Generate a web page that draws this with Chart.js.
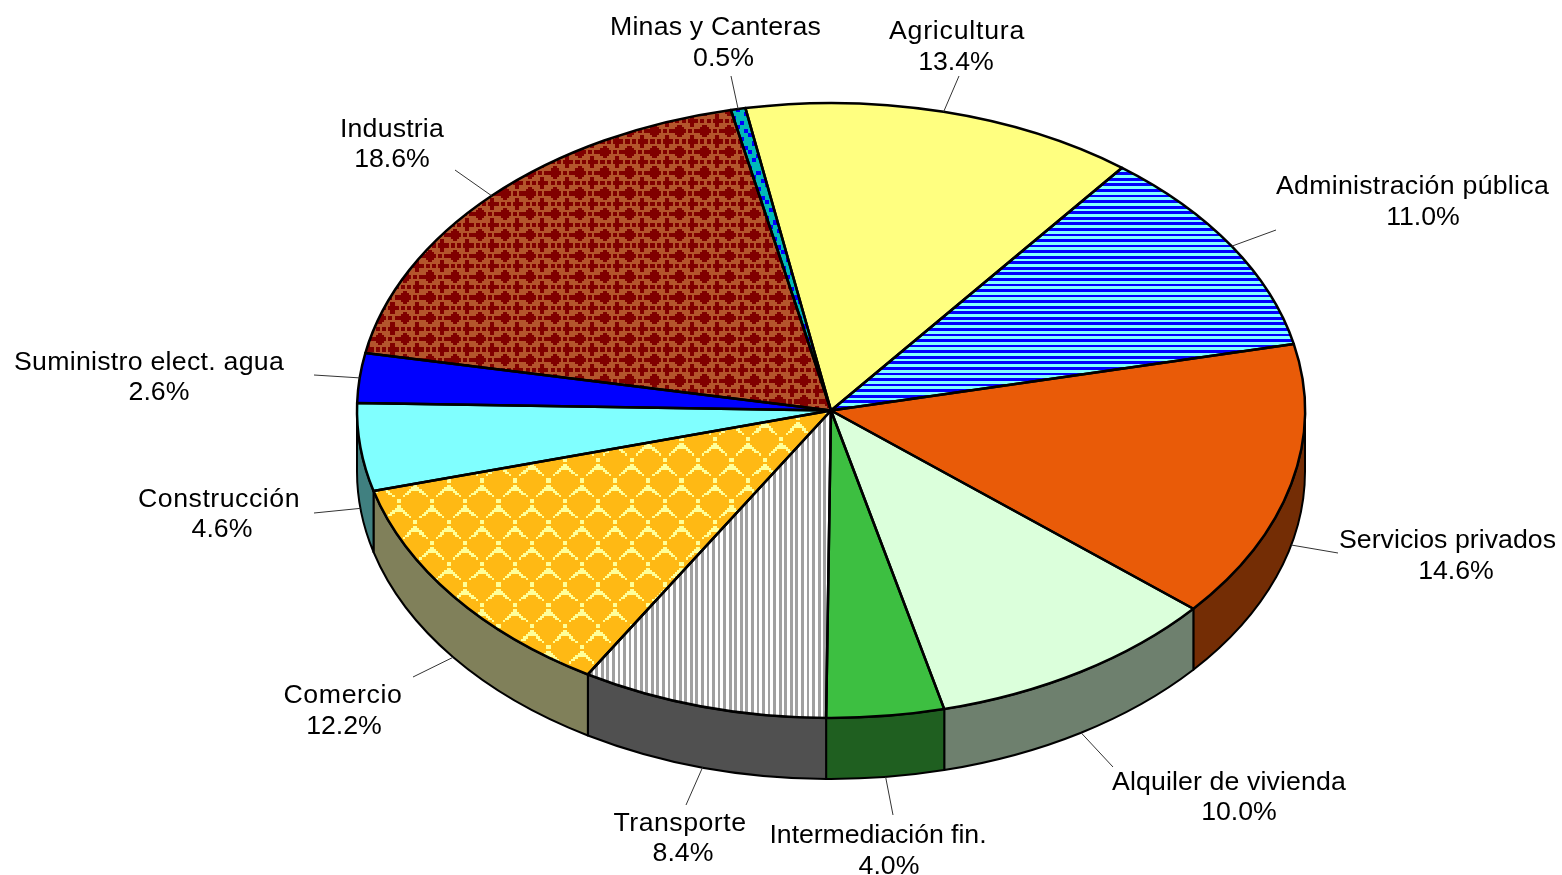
<!DOCTYPE html>
<html>
<head>
<meta charset="utf-8">
<style>html,body{margin:0;padding:0;background:#fff}canvas{display:block}</style>
<script src="https://cdn.jsdelivr.net/npm/chart.js@4/dist/chart.umd.min.js"></script>
</head>
<body>
<canvas id="c" width="1562" height="875"></canvas>
<script>
const categories = ['Agricultura','Administración pública','Servicios privados','Alquiler de vivienda','Intermediación fin.','Transporte','Comercio','Construcción','Suministro elect. agua','Industria','Minas y Canteras'];
const shares = [13.4,11.0,14.6,10.0,4.0,8.4,12.2,4.6,2.6,18.6,0.5];

// label layout: [name centre x, name y, value centre x, value y, leader end x, leader end y, name width]
const labelLayout = [
  [957,32,956,63,959,76,136],
  [1412.5,187,1423,218,1276,230,273],
  [1447.5,541,1456,572,1338,553,217],
  [1229,783,1239,813,1113,767,234],
  [878,836,889,867,893,815,217],
  [680,824,683,854,686,805,133],
  [343,696,344,727,413,677,119],
  [219,500,222,530,314,513,162],
  [149,363,159,393,314,375,270],
  [392,130,392,160,455,170,104],
  [715.5,28,723.5,59,731,76,211]
];
const wallColors = ['#b0b080','#000080','#742d05','#6e806e','#1f5f20','#505050','#80805a','#408080','#000080','#5a2a16','#005c5c'];

const CX = 831, CY = 410.5, RX = 474, RY = 307.5, DEPTH = 61, SX = RX / RY;
const CELL = 2.08;

function tile(rows, bg, fg, cell) {
  const h = rows.length, w = rows[0].length;
  const t = document.createElement('canvas');
  t.width = w; t.height = h;
  const g = t.getContext('2d');
  g.fillStyle = bg; g.fillRect(0,0,w,h);
  g.fillStyle = fg;
  rows.forEach((r,y)=>{ for(let x=0;x<w;x++) if(r[x]==='#') g.fillRect(x,y,1,1); });
  const p = document.getElementById('c').getContext('2d').createPattern(t,'repeat');
  p.setTransform(new DOMMatrix().scale(cell/SX, cell));
  return p;
}
const hStripes = tile(['#','.'], '#80ffff', '#0000ff', 2.78);
const vStripes = tile(['#.'], '#ffffff', '#a0a0a0', 2.78);
const scales = tile([
'.......##.......',
'.......##.......',
'................',
'.......##.......',
'......####......',
'.....######.....',
'....##....##....',
'...##......##...',
'..#..........#..',
'................',
'#..............#',
'#..............#',
'................',
'#..............#',
'##............##',
'###..........###',
'..##........##..',
'...##......##...',
'.....#....#.....',
'................'
], '#ffb914', '#ffff99', CELL);
const crosses = tile([
'..##....##..',
'.####.......',
'######.##.##',
'######.##.##',
'.####.......',
'..##....##..',
'........##..',
'.##.##.#####',
'.##.##.#####',
'........##..'
], '#b4552c', '#800000', CELL);
const dots = tile([
'##......',
'##......',
'....##..',
'....##..',
'..##....',
'..##....',
'......##',
'......##'
], '#00b9b9', '#0000ff', CELL);

const faceColors = ['#ffff80',hStripes,'#e95b08','#dbffdb','#3dbf41',vStripes,scales,'#80ffff','#0000ff',crosses,dots];

const pie3d = {
  id:'pie3d',
  beforeDatasetsDraw(chart){
    const ctx = chart.ctx, arcs = chart.getDatasetMeta(0).data;
    ctx.save();
    ctx.lineWidth = 2; ctx.strokeStyle = '#000'; ctx.lineJoin = 'round';
    arcs.forEach((arc,i)=>{
      const a = Math.max(arc.startAngle,0), b = Math.min(arc.endAngle,Math.PI);
      if (b <= a) return;
      ctx.beginPath();
      ctx.ellipse(CX,CY,RX,RY,0,a,b);
      ctx.ellipse(CX,CY+DEPTH,RX,RY,0,b,a,true);
      ctx.closePath();
      ctx.fillStyle = wallColors[i];
      ctx.fill(); ctx.stroke();
    });
    ctx.restore();
    ctx.save();
    ctx.imageSmoothingEnabled = false;
    ctx.translate(CX,CY); ctx.scale(SX,1); ctx.translate(-CX,-CY);
  },
  afterDatasetsDraw(chart){
    const ctx = chart.ctx, arcs = chart.getDatasetMeta(0).data;
    ctx.restore();
    ctx.save();
    ctx.lineWidth = 2.5; ctx.strokeStyle = '#000'; ctx.lineJoin = 'round';
    arcs.forEach(arc=>{
      ctx.beginPath();
      ctx.moveTo(CX,CY);
      ctx.ellipse(CX,CY,RX,RY,0,arc.startAngle,arc.endAngle);
      ctx.closePath();
      ctx.stroke();
    });
    // leaders
    ctx.lineWidth = 1; ctx.strokeStyle = '#333';
    arcs.forEach((arc,i)=>{
      const m = (arc.startAngle+arc.endAngle)/2;
      const sx = CX+RX*Math.cos(m);
      let sy = CY+RY*Math.sin(m);
      if (Math.sin(m)>0) sy += DEPTH;
      ctx.beginPath(); ctx.moveTo(sx,sy); ctx.lineTo(labelLayout[i][4],labelLayout[i][5]); ctx.stroke();
    });
    // labels
    ctx.fillStyle='#000'; ctx.textAlign='center'; ctx.textBaseline='middle';
    ctx.font='26.7px "Liberation Sans", Arial, sans-serif';
    categories.forEach((n,i)=>{
      const l = labelLayout[i];
      ctx.letterSpacing='0px';
      const w = ctx.measureText(n).width;
      ctx.letterSpacing=((l[6]-w)/n.length).toFixed(3)+'px';
      ctx.fillText(n,l[0],l[1]);
      ctx.letterSpacing='0px';
      ctx.fillText(shares[i].toFixed(1)+'%',l[2],l[3]);
    });
    ctx.restore();
  }
};

new Chart(document.getElementById('c'),{
  type:'pie',
  data:{labels:categories,datasets:[{data:shares,backgroundColor:faceColors,borderWidth:0,clip:false}]},
  options:{
    responsive:false,animation:false,rotation:-10.4,
    layout:{padding:{left:100,right:0,top:103,bottom:157}},
    plugins:{legend:{display:false},tooltip:{enabled:false}},
    events:[]
  },
  plugins:[pie3d]
});
</script>
</body>
</html>
